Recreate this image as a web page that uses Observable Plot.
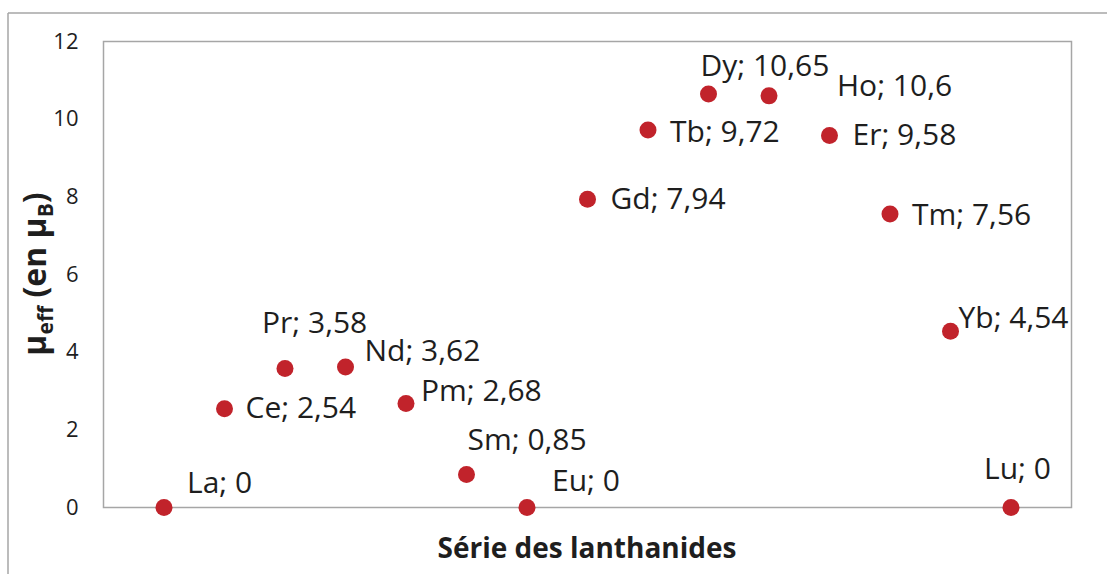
<!DOCTYPE html>
<html>
<head>
<meta charset="utf-8">
<script src="https://cdn.jsdelivr.net/npm/d3@7"></script>
<script src="https://cdn.jsdelivr.net/npm/@observablehq/plot@0.6"></script>
<style>
  html, body { margin: 0; padding: 0; background: #fff; }
  #chart { width: 1107px; height: 574px; }
</style>
</head>
<body>
<div id="chart"></div>
<script>
// ---- data ----
const elements = ["La","Ce","Pr","Nd","Pm","Sm","Eu","Gd","Tb","Dy","Ho","Er","Tm","Yb","Lu"];
const muEff = [0, 2.54, 3.58, 3.62, 2.68, 0.85, 0, 7.94, 9.72, 10.65, 10.6, 9.58, 7.56, 4.54, 0];
const valueLabels = ["0","2,54","3,58","3,62","2,68","0,85","0","7,94","9,72","10,65","10,6","9,58","7,56","4,54","0"];
const yTicks = [0, 2, 4, 6, 8, 10, 12];

// ---- label placement (styling) ----
const labelDx = [23, 21, -23, 19, 15, 1, 25, 23, 22, -8, 68, 23, 22, 8, -27];
const labelDy = [-24, 0, -45, -16, -12, -34, -26, 0, 2, -28, -9, 0, 1, -13, -38];

const data = elements.map((el, i) => ({
  idx: i + 1,
  el,
  v: muEff[i],
  label: `${el}; ${valueLabels[i]}`
}));

const red = "#c1232b";
const ink = "#1e1e1e";

const plot = Plot.plot({
  width: 1107,
  height: 574,
  marginLeft: 103,
  marginRight: 36,
  marginTop: 41,
  marginBottom: 67,
  style: { fontFamily: "'Open Sans', sans-serif", fontSize: "22px", color: ink, background: "white", overflow: "visible" },
  x: { domain: [0, 16], axis: null },
  y: { domain: [0, 12], axis: null },
  marks: [
    Plot.frame({ stroke: "#a6a6a6", strokeWidth: 1.5 }),
    Plot.axisY({ ticks: yTicks, tickSize: 0, tickPadding: 25, label: null, fontSize: 22, tickFormat: d => String(d) }),
    Plot.dot(data, { x: "idx", y: "v", r: 8.5, fill: red }),
    ...data.map((d, i) => Plot.text([d], {
      x: "idx", y: "v", text: "label",
      textAnchor: "start", dx: labelDx[i], dy: labelDy[i],
      fontSize: 30, fill: ink
    }))
  ]
});

document.getElementById("chart").appendChild(plot);

// outer chart-area border (top and left), axis titles
const svg = d3.select(plot);
svg.insert("line", ":first-child")
  .attr("x1", 8).attr("y1", 13).attr("x2", 1107).attr("y2", 13)
  .attr("stroke", "#a6a6a6").attr("stroke-width", 1.5);
svg.insert("line", ":first-child")
  .attr("x1", 8).attr("y1", 13).attr("x2", 8).attr("y2", 574)
  .attr("stroke", "#a6a6a6").attr("stroke-width", 1.5);

svg.append("text")
  .attr("x", 587).attr("y", 558)
  .attr("text-anchor", "middle")
  .attr("font-family", "'Open Sans', sans-serif")
  .attr("font-weight", "bold")
  .attr("font-size", 28)
  .attr("fill", ink)
  .text("Série des lanthanides");

const yt = svg.append("text")
  .attr("transform", "translate(46,274) rotate(-90)")
  .attr("text-anchor", "middle")
  .attr("font-family", "'Open Sans', sans-serif")
  .attr("font-weight", "bold")
  .attr("font-size", 32)
  .attr("fill", ink);
yt.append("tspan").text("μ");
yt.append("tspan").attr("font-size", 21).attr("dy", 7).text("eff");
yt.append("tspan").attr("dy", -7).text(" (en μ");
yt.append("tspan").attr("font-size", 21).attr("dy", 7).text("B");
yt.append("tspan").attr("dy", -7).text(")");
</script>
</body>
</html>
